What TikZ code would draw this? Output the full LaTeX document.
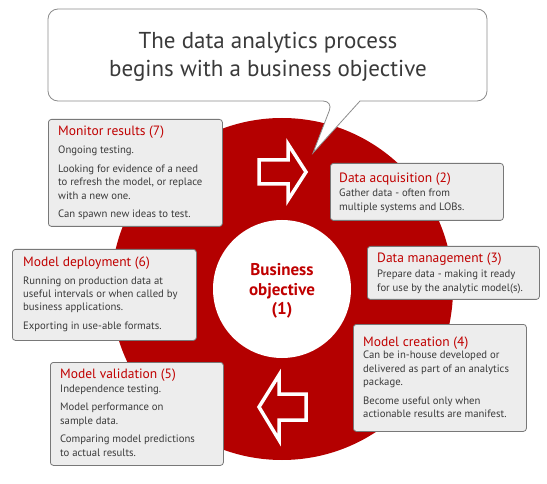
\documentclass[tikz,border=0pt]{standalone}
\usepackage{fontspec}
\setmainfont{PT Sans}
\usetikzlibrary{calc}
\definecolor{ringred}{RGB}{180,0,0}
\definecolor{titlered}{RGB}{192,0,0}
\definecolor{boxfill}{RGB}{237,237,237}
\definecolor{boxline}{RGB}{120,120,120}
\definecolor{bodygray}{RGB}{58,58,58}
\definecolor{bubbleline}{RGB}{140,140,140}
\newcommand{\pgap}{\par\vspace{5pt}}
\begin{document}
\begin{tikzpicture}[x=1pt,y=-1pt,
  infobox/.style={draw=boxline, fill=boxfill, line width=0.8pt, rounded corners=3pt, inner sep=0pt, anchor=north west},
  boxtitle/.style={anchor=base west, inner sep=0pt, text=titlered, font=\fontsize{13.5}{16}\selectfont},
  boxbody/.style={anchor=base west, inner sep=0pt, text=bodygray, font=\fontsize{10.7}{13.5}\selectfont},
  flowarrow/.style={draw=white, line width=3.5pt, line join=miter, fill=ringred}]
\useasboundingbox (0,0) rectangle (547,484);
% ring
\fill[ringred] (282,289) circle[radius=171pt];
\node[circle, fill=white, minimum size=138pt, inner sep=0pt] (core) at (282,289) {};
\node[font=\bfseries\fontsize{17}{19.5}\selectfont, text=titlered, align=center] (obj) at (282,291) {Business\\objective\\(1)};
% arrows
\draw[flowarrow] (259,160) -- (288,160) -- (288,144) -- (306,172) -- (288,200) -- (288,184) -- (259,184) -- cycle;
\draw[flowarrow] (259,407) -- (279,375) -- (279,394) -- (306,394) -- (306,420) -- (279,420) -- (279,440) -- cycle;
% bubble
\draw[bubbleline, fill=white, line width=0.8pt, rounded corners=10pt] (267,9) -- (48,9) -- (48,101) -- (333,101) [sharp corners] -- (313,153) -- (360,101) [rounded corners=10pt] -- (487,101) -- (487,9) -- cycle;
\node[font=\fontsize{23}{28}\selectfont, text=bodygray, align=center] (title) at (268,57) {The data analytics process\\begins with a business objective};
% box 7
\node[infobox, minimum width=174pt, minimum height=107pt] (b7) at (48,119) {};
\node[boxtitle] (h7) at (58,136) {Monitor results (7)};
\node[boxbody] (t7) at (58,154) {\parbox[t]{165pt}{\raggedright Ongoing testing.\pgap Looking for evidence of a need\\to refresh the model, or replace\\with a new one.\pgap Can spawn new ideas to test.}};
% box 2
\node[infobox, minimum width=173pt, minimum height=57pt] (b2) at (330,163) {};
\node[boxtitle] (h2) at (339,183) {Data acquisition (2)};
\node[boxbody] (t2) at (339,197) {\parbox[t]{165pt}{\raggedright Gather data - often from\\multiple systems and LOBs.}};
% box 3
\node[infobox, minimum width=172pt, minimum height=53pt] (b3) at (367,246) {};
\node[boxtitle] (h3) at (377,263) {Data management (3)};
\node[boxbody] (t3) at (377,278) {\parbox[t]{165pt}{\raggedright Prepare data - making it ready\\for use by the analytic model(s).}};
% box 6
\node[infobox, minimum width=184pt, minimum height=91pt] (b6) at (12,249) {};
\node[boxtitle] (h6) at (23,266) {Model deployment (6)};
\node[boxbody] (t6) at (23,284) {\parbox[t]{170pt}{\raggedright Running on production data at\\useful intervals or when called by\\business applications.\pgap Exporting in use-able formats.}};
% box 5
\node[infobox, minimum width=173pt, minimum height=103pt] (b5) at (50,362) {};
\node[boxtitle] (h5) at (60,378) {Model validation (5)};
\node[boxbody] (t5) at (60,392) {\parbox[t]{165pt}{\raggedright Independence testing.\pgap Model performance on\\sample data.\pgap Comparing model predictions\\to actual results.}};
% box 4
\node[infobox, minimum width=173pt, minimum height=107pt] (b4) at (353,324) {};
\node[boxtitle] (h4) at (363,346) {Model creation (4)};
\node[boxbody] (t4) at (363,359) {\parbox[t]{165pt}{\raggedright Can be in-house developed or\\delivered as part of an analytics\\package.\pgap Become useful only when\\actionable results are manifest.}};
\end{tikzpicture}
\end{document}
